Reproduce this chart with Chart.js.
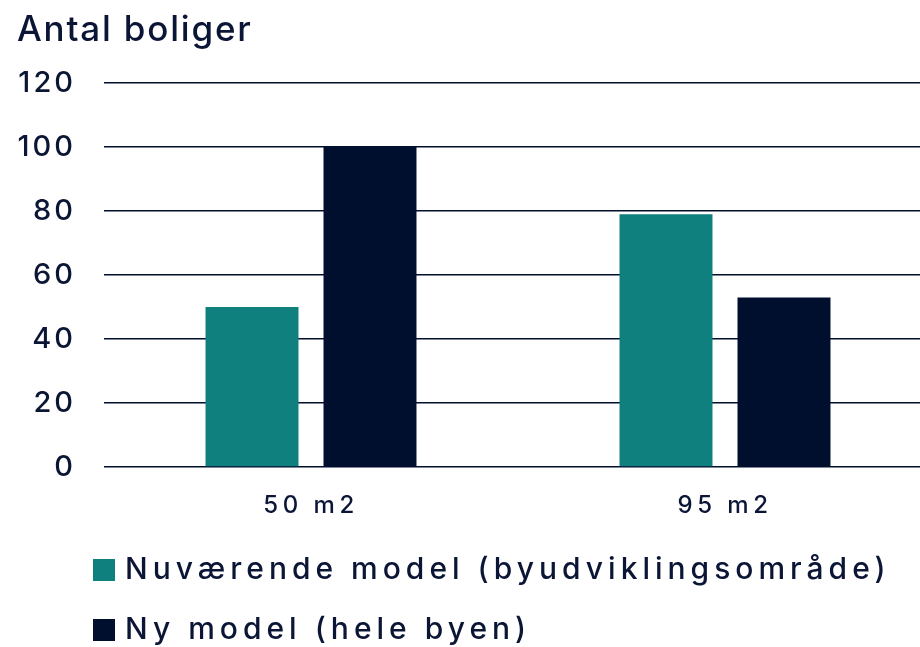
<!DOCTYPE html>
<html lang="da">
<head>
<meta charset="utf-8">
<title>Antal boliger</title>
<script src="https://cdn.jsdelivr.net/npm/chart.js@4.4.1/dist/chart.umd.min.js"></script>
<style>
    html, body { margin: 0; padding: 0; background: #ffffff; overflow: hidden; }
    #wrap { width: 920px; height: 647px; overflow: hidden; position: relative; }
    #chart-box { width: 932px; height: 655px; }
</style>
</head>
<body>
<div id="wrap">
    <div id="chart-box"><canvas id="boliger-chart"></canvas></div>
</div>
<script>
// Data
const categories = ["50 m2", "95 m2"];
const nuvaerendeModel = [50, 79];
const nyModel = [100, 53];
const yTicks = [0, 20, 40, 60, 80, 100, 120];

const seriesNames = ["Nuværende model (byudviklingsområde)", "Ny model (hele byen)"];

const navy = "#000f2e";
const teal = "#0f807d";
const textColor = "#0b1535";
const fontFamily = "Inter, 'Noto Sans', sans-serif";

// Square legend swatch, drawn as an image so the label can sit closer to it
function swatch(color) {
    const c = document.createElement("canvas");
    c.width = 22;
    c.height = 22;
    const g = c.getContext("2d");
    g.fillStyle = color;
    g.fillRect(0, 0, 22, 22);
    return c;
}
const swatches = [swatch(teal), swatch(navy)];

// Draw a box's text with extra letter spacing (the house font runs wide)
function withSpacing(obj, method, spacing) {
    if (!obj || obj[method].spaced) return;
    const orig = obj[method];
    const wrapped = function (...args) {
        const c = this.ctx;
        c.save();
        c.letterSpacing = spacing + "px";
        orig.apply(this, args);
        c.restore();
    };
    wrapped.spaced = true;
    obj[method] = wrapped;
}

const wideText = {
    id: "wideText",
    afterLayout(chart) {
        withSpacing(chart.titleBlock, "draw", 1.8);
        withSpacing(chart.legend, "draw", 5);
        withSpacing(chart.scales.x, "drawLabels", 4.5);
        withSpacing(chart.scales.y, "drawLabels", 3);
        // legend lines up with the bars rather than the page edge
        if (chart.legend) {
            chart.legend.left += 51;
        }
    }
};

const ctx = document.getElementById("boliger-chart").getContext("2d");

let chart = new Chart(ctx, {
    type: "bar",
    data: {
        labels: categories,
        datasets: [
            {
                label: seriesNames[0],
                data: nuvaerendeModel,
                backgroundColor: teal
            },
            {
                label: seriesNames[1],
                data: nyModel,
                backgroundColor: navy
            }
        ]
    },
    options: {
        responsive: true,
        maintainAspectRatio: false,
        animation: false,
        datasets: {
            bar: {
                categoryPercentage: 0.57,
                barPercentage: 0.788
            }
        },
        layout: {
            padding: { left: 17, right: 0, top: 9, bottom: 0 }
        },
        scales: {
            x: {
                grid: { display: false },
                border: { display: false },
                ticks: {
                    color: textColor,
                    padding: 16,
                    font: { family: fontFamily, size: 24, weight: 500 }
                },
                afterFit(scale) {
                    scale.height = 58;
                }
            },
            y: {
                min: yTicks[0],
                max: yTicks[yTicks.length - 1],
                grid: {
                    color: navy,
                    lineWidth: 1.6,
                    drawTicks: false
                },
                border: { display: false },
                ticks: {
                    stepSize: 20,
                    color: textColor,
                    padding: 28,
                    font: { family: fontFamily, size: 29, weight: 500 }
                },
                afterFit(scale) {
                    scale.width = 87;
                }
            }
        },
        plugins: {
            title: {
                display: true,
                text: "Antal boliger",
                align: "start",
                color: textColor,
                font: { family: fontFamily, size: 35, weight: 500 },
                padding: { top: 0, bottom: 32 }
            },
            legend: {
                position: "bottom",
                align: "start",
                labels: {
                    color: textColor,
                    usePointStyle: true,
                    pointStyleWidth: 12,
                    boxHeight: 22,
                    padding: 30,
                    font: { family: fontFamily, size: 30, weight: 500 },
                    generateLabels(chart) {
                        const items = Chart.defaults.plugins.legend.labels.generateLabels(chart);
                        items.forEach((item, i) => {
                            item.pointStyle = swatches[i];
                        });
                        return items;
                    }
                }
            },
            tooltip: { enabled: false }
        }
    },
    plugins: [wideText]
});
</script>
</body>
</html>
